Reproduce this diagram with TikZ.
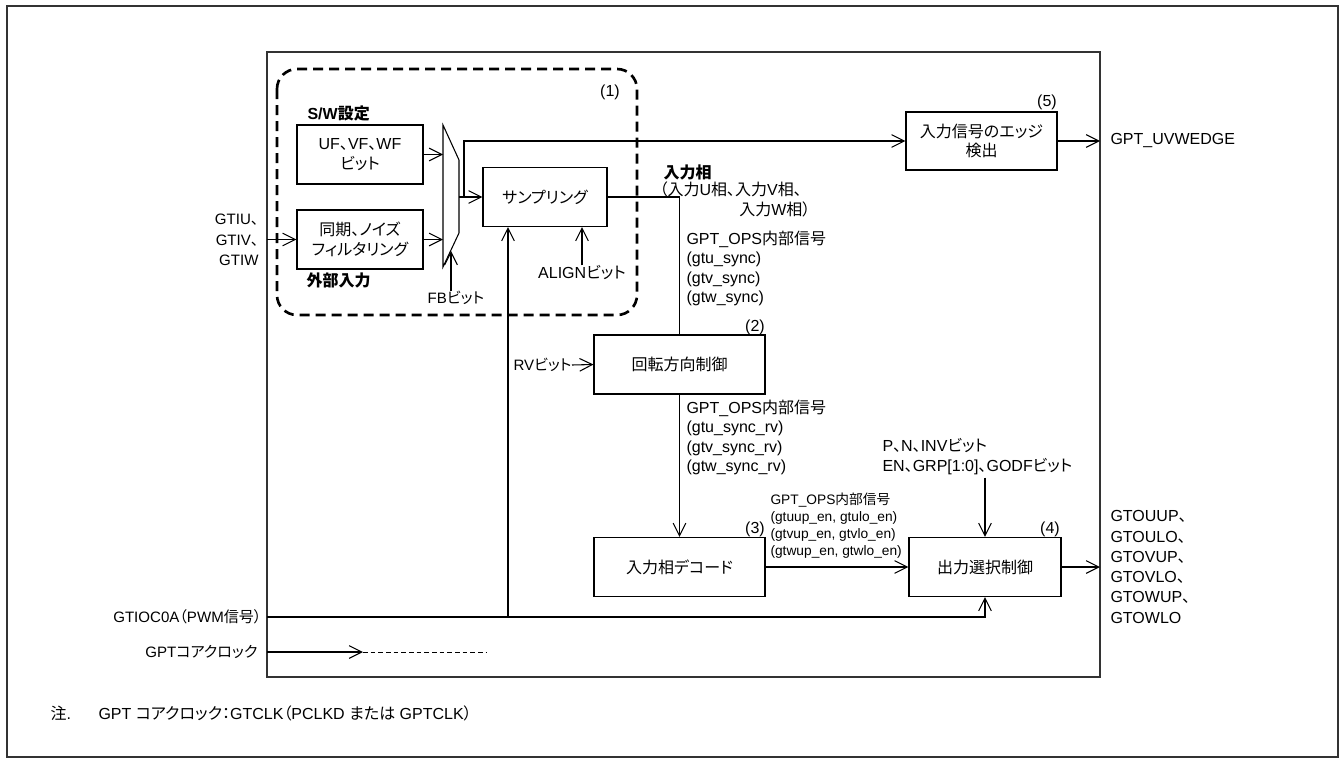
\documentclass[tikz,border=0pt]{standalone}
\usepackage{fontspec}
\setmainfont{Liberation Sans}
\newfontfamily\jpfont[RawFeature=+palt]{Noto Sans CJK JP}
% Japanese characters go to the CJK family, the rest stays Arial-like
\XeTeXinterchartokenstate=1
\newXeTeXintercharclass\jpcls
\newcount\jpcnt
\def\jprange#1#2{%
  \jpcnt=#1\relax
  \loop
    \XeTeXcharclass\jpcnt=\jpcls
  \ifnum\jpcnt<#2\relax
    \advance\jpcnt by 1
  \repeat}
\jprange{"3000}{"30FF}
\jprange{"4E00}{"9FFF}
\jprange{"FF00}{"FFEF}
\XeTeXinterchartoks 0 \jpcls = {\jpfont}
\XeTeXinterchartoks 4095 \jpcls = {\jpfont}
\XeTeXinterchartoks \jpcls 0 = {\rmfamily}
\XeTeXinterchartoks \jpcls 4095 = {\rmfamily}
\newcommand\szmain{\fontsize{12}{14.6}\selectfont}
\newcommand\szleft{\fontsize{11.3}{15.4}\selectfont}
\newcommand\szsub{\fontsize{10.3}{12.75}\selectfont}
\usetikzlibrary{
    arrows.meta,
    calc
}
\tikzset{
  every path/.style={
    black,
    line width=0.8pt
  },
  every node/.style={
    inner sep=0pt,
    font=\szmain
  },
  blk/.style={
    draw,
    align=center,
    minimum height=44.25pt
  },
  hdr/.style={
    font=\bfseries\szmain
  },
  lft/.style={
    font=\szleft
  },
  sub/.style={
    font=\szsub
  },
  sig/.style={
    -{Straight Barb[length=9.5pt,width=9.5pt]}
  }
}

\begin{document}
\begin{tikzpicture}[x=0.75pt,y=-0.75pt]
    \useasboundingbox (0,0) rectangle (1343,760);
    %-------------------------
    %frames
    %-------------------------
    \draw[black!80, line width=1.2pt] (7,6) rectangle (1338,757);
    \draw[black!80, line width=1pt] (267,52) rectangle (1100,677);
    \draw[line width=2pt, dash pattern=on 7.5pt off 4.5pt, rounded corners=15pt] (277,69) rectangle (637,315);
    \node (n1) at (610,92) {(1)};

    %-------------------------
    %(1) input / sampling
    %-------------------------
    \node[hdr, anchor=west] (sw) at (307,113) {S/W設定};
    \node[blk, minimum width=94.5pt] (uvw) at (360,154.5) {UF、VF、WF\\ビット};
    \node[blk, minimum width=94.5pt] (nf) at (360,239.5) {同期、ノイズ\\フィルタリング};
    \node[hdr, anchor=west] (ext) at (306,280) {外部入力};
    \node[lft, anchor=east, align=right] (gti) at (259,240) {GTIU、\\GTIV、\\GTIW};

    \draw (443,125) -- (459,160) -- (459,233) -- (443,267) -- cycle;
    \coordinate (mxa) at (443,154.5);
    \coordinate (mxb) at (443,239.5);
    \coordinate (mxo) at (459,197);
    \coordinate (mxf) at (451,251);
    \coordinate (br) at (464,197);
    \coordinate (gin) at (267,239.5);

    \node[blk, minimum width=93pt] (samp) at (545,197) {サンプリング};
    \node[lft] (fb) at (456,298) {FBビット};
    \node (al) at (582,273) {ALIGNビット};

    \draw[sig] (gin) -- (nf.west);
    \draw[sig] (uvw.east) -- (mxa);
    \draw[sig] (nf.east) -- (mxb);
    \draw[sig] (mxo) -- (samp.west);
    \draw[sig] (mxf |- fb.north) -- (mxf);
    \draw[sig] (al.north) -- (al.north |- samp.south);

    %-------------------------
    %(5) edge
    %-------------------------
    \node[blk, minimum width=113.25pt, minimum height=43.5pt] (edge) at (981.5,141) {入力信号のエッジ\\検出};
    \node (n5) at (1047,102) {(5)};
    \coordinate (eout) at (1100,141);
    \node[anchor=west] (uvwe) at (1110,141) {GPT\_UVWEDGE};
    \draw[sig] (br) |- (edge.west);
    \draw[sig] (edge.east) -- (eout);

    %-------------------------
    %(2) rotation
    %-------------------------
    \node[hdr, anchor=west] (ph) at (663,172) {入力相};
    \node[anchor=west] (phu) at (659,189) {（入力U相、入力V相、};
    \node[anchor=east] (phw) at (811,209) {入力W相）};
    \node[anchor=west, align=left] (sync) at (686,268.5) {GPT\_OPS内部信号\\(gtu\_sync)\\(gtv\_sync)\\(gtw\_sync)};

    \node[blk, minimum width=128.25pt] (rot) at (679.5,364.5) {回転方向制御};
    \node (n2) at (755,327) {(2)};
    \node[lft, anchor=east] (rv) at (572,365) {RVビット};
    \draw (samp.east) -| (rot.north);
    \draw[sig] (rv.east) -- (rot.west);

    \node[anchor=west, align=left] (syncrv) at (686,437.5) {GPT\_OPS内部信号\\(gtu\_sync\_rv)\\(gtv\_sync\_rv)\\(gtw\_sync\_rv)};

    %-------------------------
    %(3) decode, (4) output
    %-------------------------
    \node[blk, minimum width=128.25pt] (dec) at (679.5,567) {入力相デコード};
    \node (n3) at (755,529) {(3)};
    \node[sub, anchor=west, align=left] (en) at (770,525.5) {GPT\_OPS内部信号\\(gtuup\_en, gtulo\_en)\\(gtvup\_en, gtvlo\_en)\\(gtwup\_en, gtwlo\_en)};
    \draw[sig] (rot.south) -- (dec.north);

    \node[blk, minimum width=114pt] (osel) at (985,567) {出力選択制御};
    \node (n4) at (1050,529) {(4)};
    \node[anchor=west, align=left] (pn) at (882,456.5) {P、N、INVビット\\EN、GRP[1:0]、GODFビット};
    \coordinate (oout) at (1100,567);
    \node[anchor=west, align=left, font=\fontsize{12}{15.2}\selectfont] (gto) at (1110,567) {GTOUUP、\\GTOULO、\\GTOVUP、\\GTOVLO、\\GTOWUP、\\GTOWLO};
    \draw[sig] (dec.east) -- (osel.west);
    \draw[sig, shorten <=2pt] (pn.south -| osel.north) -- (osel.north);
    \draw[sig] (osel.east) -- (oout);

    %-------------------------
    %PWM, clock
    %-------------------------
    \node[lft, anchor=east] (pwm) at (262,617) {GTIOC0A（PWM信号）};
    \coordinate (pwmin) at (267,617);
    \coordinate (pwmbr) at (508,617);
    \draw[sig] (pwmin) -| (osel.south);
    \draw[sig] (pwmbr) -- (pwmbr |- samp.south);

    \node[lft, anchor=east] (clk) at (258,652) {GPTコアクロック};
    \coordinate (clkin) at (267,652);
    \coordinate (clkm) at (363,652);
    \coordinate (clke) at (487,652);
    \draw[sig] (clkin) -- (clkm);
    \draw[line width=0.6pt, dash pattern=on 3.5pt off 2.25pt] (clkm) -- (clke);

    %-------------------------
    %note
    %-------------------------
    \node[anchor=west] (nt) at (50,713) {注.};
    \node[anchor=west] (ntx) at (98,713) {GPT コアクロック：GTCLK（PCLKD または GPTCLK）};

    \end{tikzpicture}
\end{document}
